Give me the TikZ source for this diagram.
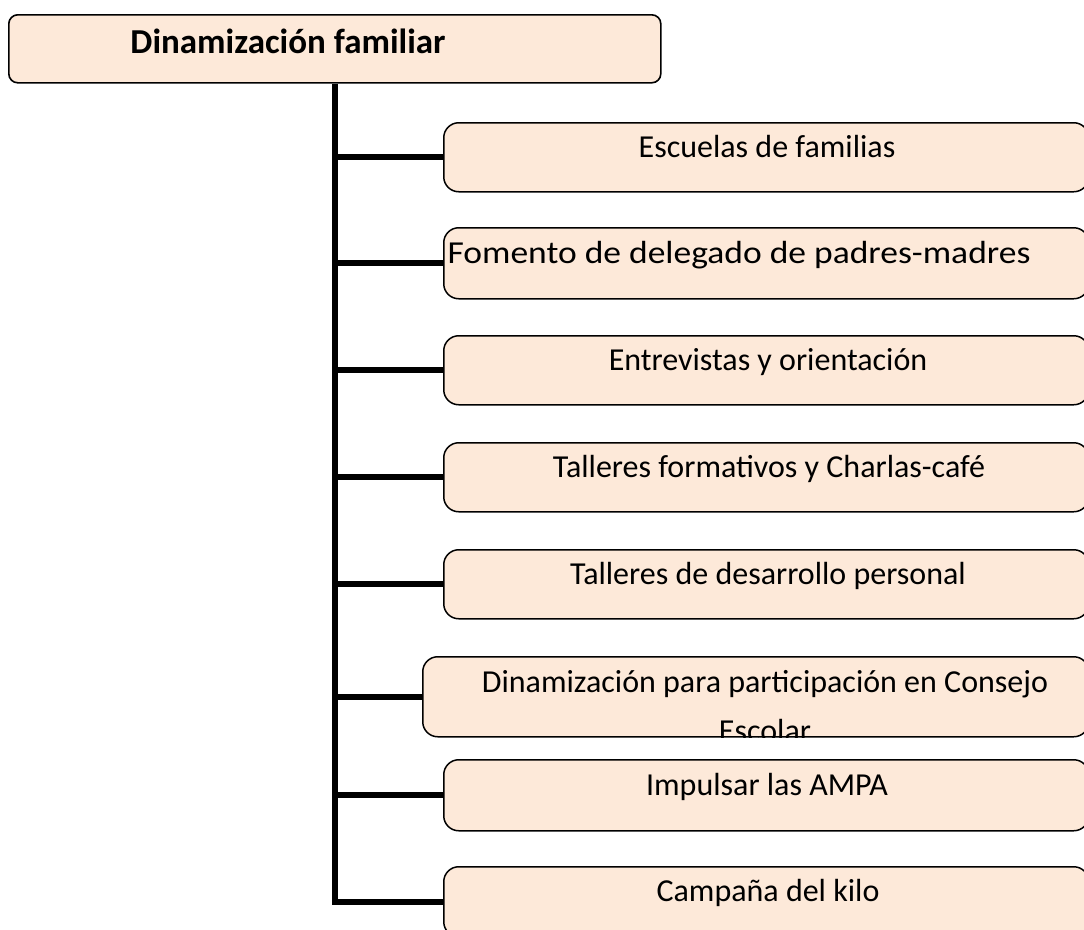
\documentclass[tikz,border=0pt]{standalone}
\usepackage{fontspec}
\setmainfont{Carlito}
\definecolor{boxfill}{HTML}{FDE9D9}
\newcommand{\widetxt}[1]{\scalebox{1.11}[1]{#1}}
\begin{document}
\begin{tikzpicture}[x=1pt,y=-1pt,
  topbox/.style={draw=black, line width=1.6pt, fill=boxfill, rounded corners=9pt, anchor=north west, inner sep=0pt},
  childbox/.style={draw=black, line width=1.5pt, fill=boxfill, rounded corners=15pt, anchor=north west, inner sep=0pt},
  lbl/.style={font=\fontsize{32}{38}\selectfont, inner sep=0pt, anchor=base},
  branch/.style={line width=6pt}]
\useasboundingbox (0,0) rectangle (1084,929);
\clip (0,0) rectangle (1084,929);
\node[topbox, minimum width=652pt, minimum height=68pt] (top) at (8,14) {};
\node[font=\bfseries\fontsize{35}{40}\selectfont, inner sep=0pt, anchor=base] (ttop) at (288,53) {Dinamización familiar};

\node[childbox, minimum width=645pt, minimum height=69pt] (b1) at (443,122) {};
\node[lbl] (t1) at (767,157) {Escuelas de familias};
\node[childbox, minimum width=645pt, minimum height=71pt] (b2) at (443,227) {};
\node[lbl] (t2) at (739,263) {\widetxt{Fomento de delegado de padres-madres}};
\node[childbox, minimum width=645pt, minimum height=69pt] (b3) at (443,335) {};
\node[lbl] (t3) at (768,370) {Entrevistas y orientación};
\node[childbox, minimum width=645pt, minimum height=69pt] (b4) at (443,442) {};
\node[lbl] (t4) at (769,477) {Talleres formativos y Charlas-café};
\node[childbox, minimum width=645pt, minimum height=69pt] (b5) at (443,549) {};
\node[lbl] (t5) at (768,584) {Talleres de desarrollo personal};
\node[childbox, minimum width=666pt, minimum height=80pt] (b6) at (422,656) {};
\begin{scope}
\clip[rounded corners=15pt] (b6.north west) rectangle (b6.south east);
\node[lbl] (t6a) at (765,692) {Dinamización para participación en Consejo};
\node[lbl] (t6b) at (765,741) {Escolar};
\end{scope}
\node[childbox, minimum width=645pt, minimum height=71pt] (b7) at (443,759) {};
\node[lbl] (t7) at (767,795) {Impulsar las AMPA};
\node[childbox, minimum width=645pt, minimum height=70pt] (b8) at (443,866) {};
\node[lbl] (t8) at (768,901) {Campaña del kilo};

\draw[branch] (top.south -| 335,0) |- (b8.west);
\foreach \b in {b1,b2,b3,b4,b5,b6,b7}
  \draw[branch] (\b.west -| 332,0) -- (\b.west);
\end{tikzpicture}
\end{document}
